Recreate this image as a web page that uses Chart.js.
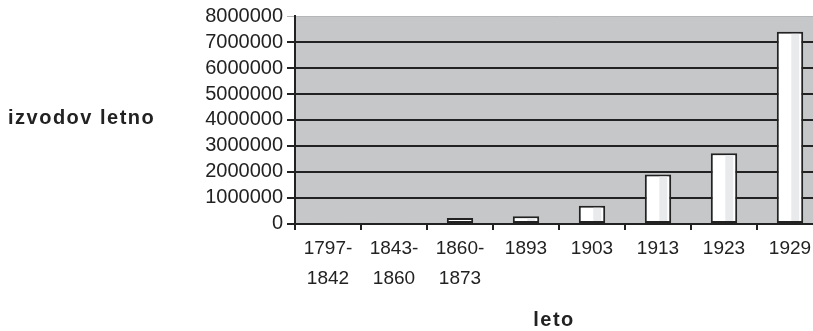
<!DOCTYPE html>
<html lang="sl">
<head>
  <meta charset="UTF-8">
  <title>Izvodov letno</title>
  <script src="https://cdn.jsdelivr.net/npm/chart.js"></script>
  <style>
    html, body { margin: 0; padding: 0; background: #fff; overflow: hidden; }
    #wrap { width: 833px; height: 331px; }
  </style>
</head>
<body>
<div id="wrap"><canvas id="chart" width="833" height="331"></canvas></div>

<script>
  // obdobja in število izvodov na leto
  const obdobja = [['1797-', '1842'], ['1843-', '1860'], ['1860-', '1873'], '1893', '1903', '1913', '1923', '1929'];
  const izvodov = [6000, 9000, 230000, 300000, 700000, 1900000, 2720000, 7390000];
  const yTicks = [0, 1000000, 2000000, 3000000, 4000000, 5000000, 6000000, 7000000, 8000000];

  const FONT = "'Liberation Sans', Arial, sans-serif";

  // siva podlaga risalne površine
  const plotBg = {
    id: 'plotBg',
    beforeDraw(chart) {
      const { ctx, chartArea: a } = chart;
      ctx.save();
      ctx.fillStyle = '#c6c7c9';
      ctx.fillRect(a.left, a.top, a.right - a.left, a.bottom - a.top);
      ctx.restore();
    }
  };

  // svetlejši pas na desni strani stolpcev
  const barShade = {
    id: 'barShade',
    afterDatasetsDraw(chart) {
      const { ctx } = chart;
      const meta = chart.getDatasetMeta(0);
      ctx.save();
      ctx.fillStyle = '#e9eaec';
      meta.data.forEach(bar => {
        const h = bar.base - bar.y;
        if (h < 6) return;
        const left = bar.x - bar.width / 2;
        ctx.fillRect(left + bar.width * 0.55, bar.y + 2, bar.width * 0.3, h - 4);
      });
      ctx.restore();
    }
  };

  // naslova osi, narisana vodoravno in nekoliko razprto
  const axisTitles = {
    id: 'axisTitles',
    afterDraw(chart) {
      const { ctx, chartArea: a } = chart;
      ctx.save();
      ctx.font = 'bold 20px ' + FONT;
      ctx.letterSpacing = '1.5px';
      ctx.fillStyle = '#222';
      ctx.textBaseline = 'middle';
      ctx.textAlign = 'left';
      ctx.fillText('izvodov letno', 8, 118);
      ctx.textAlign = 'center';
      ctx.fillText('leto', (a.left + a.right) / 2 - 5, 320);
      ctx.restore();
    }
  };

  new Chart(document.getElementById('chart'), {
    type: 'bar',
    data: {
      labels: obdobja,
      datasets: [{
        data: izvodov,
        backgroundColor: '#ffffff',
        borderColor: '#222222',
        borderWidth: 2,
        borderSkipped: false,
        barPercentage: 0.4,
        categoryPercentage: 1
      }]
    },
    options: {
      responsive: false,
      animation: false,
      layout: { padding: { top: 15, right: 10, left: 0, bottom: 33 } },
      plugins: {
        legend: { display: false },
        tooltip: { enabled: false }
      },
      scales: {
        x: {
          // oznake med kategorijami, brez mreže v risalni površini
          grid: { display: true, drawOnChartArea: false, drawTicks: true, tickLength: 6, color: '#222', lineWidth: 2 },
          border: { color: '#222', width: 2 },
          ticks: {
            color: '#222',
            font: { family: FONT, size: 19, lineHeight: 1.58 },
            maxRotation: 0,
            autoSkip: false,
            padding: 4
          }
        },
        y: {
          min: 0,
          max: 8000000,
          afterBuildTicks(scale) {
            scale.ticks = yTicks.map(v => ({ value: v }));
          },
          afterFit(scale) {
            scale.width = 295;
          },
          grid: {
            color: ctx => ctx.tick && ctx.tick.value === 8000000 ? '#b5b6b8' : '#222',
            lineWidth: ctx => ctx.tick && ctx.tick.value === 8000000 ? 1 : 2,
            tickLength: 8
          },
          border: { color: '#222', width: 2 },
          ticks: {
            color: '#222',
            font: { family: FONT, size: 20 },
            padding: 4,
            autoSkip: false,
            callback: v => String(v)
          }
        }
      }
    },
    plugins: [plotBg, barShade, axisTitles]
  });
</script>
</body>
</html>
